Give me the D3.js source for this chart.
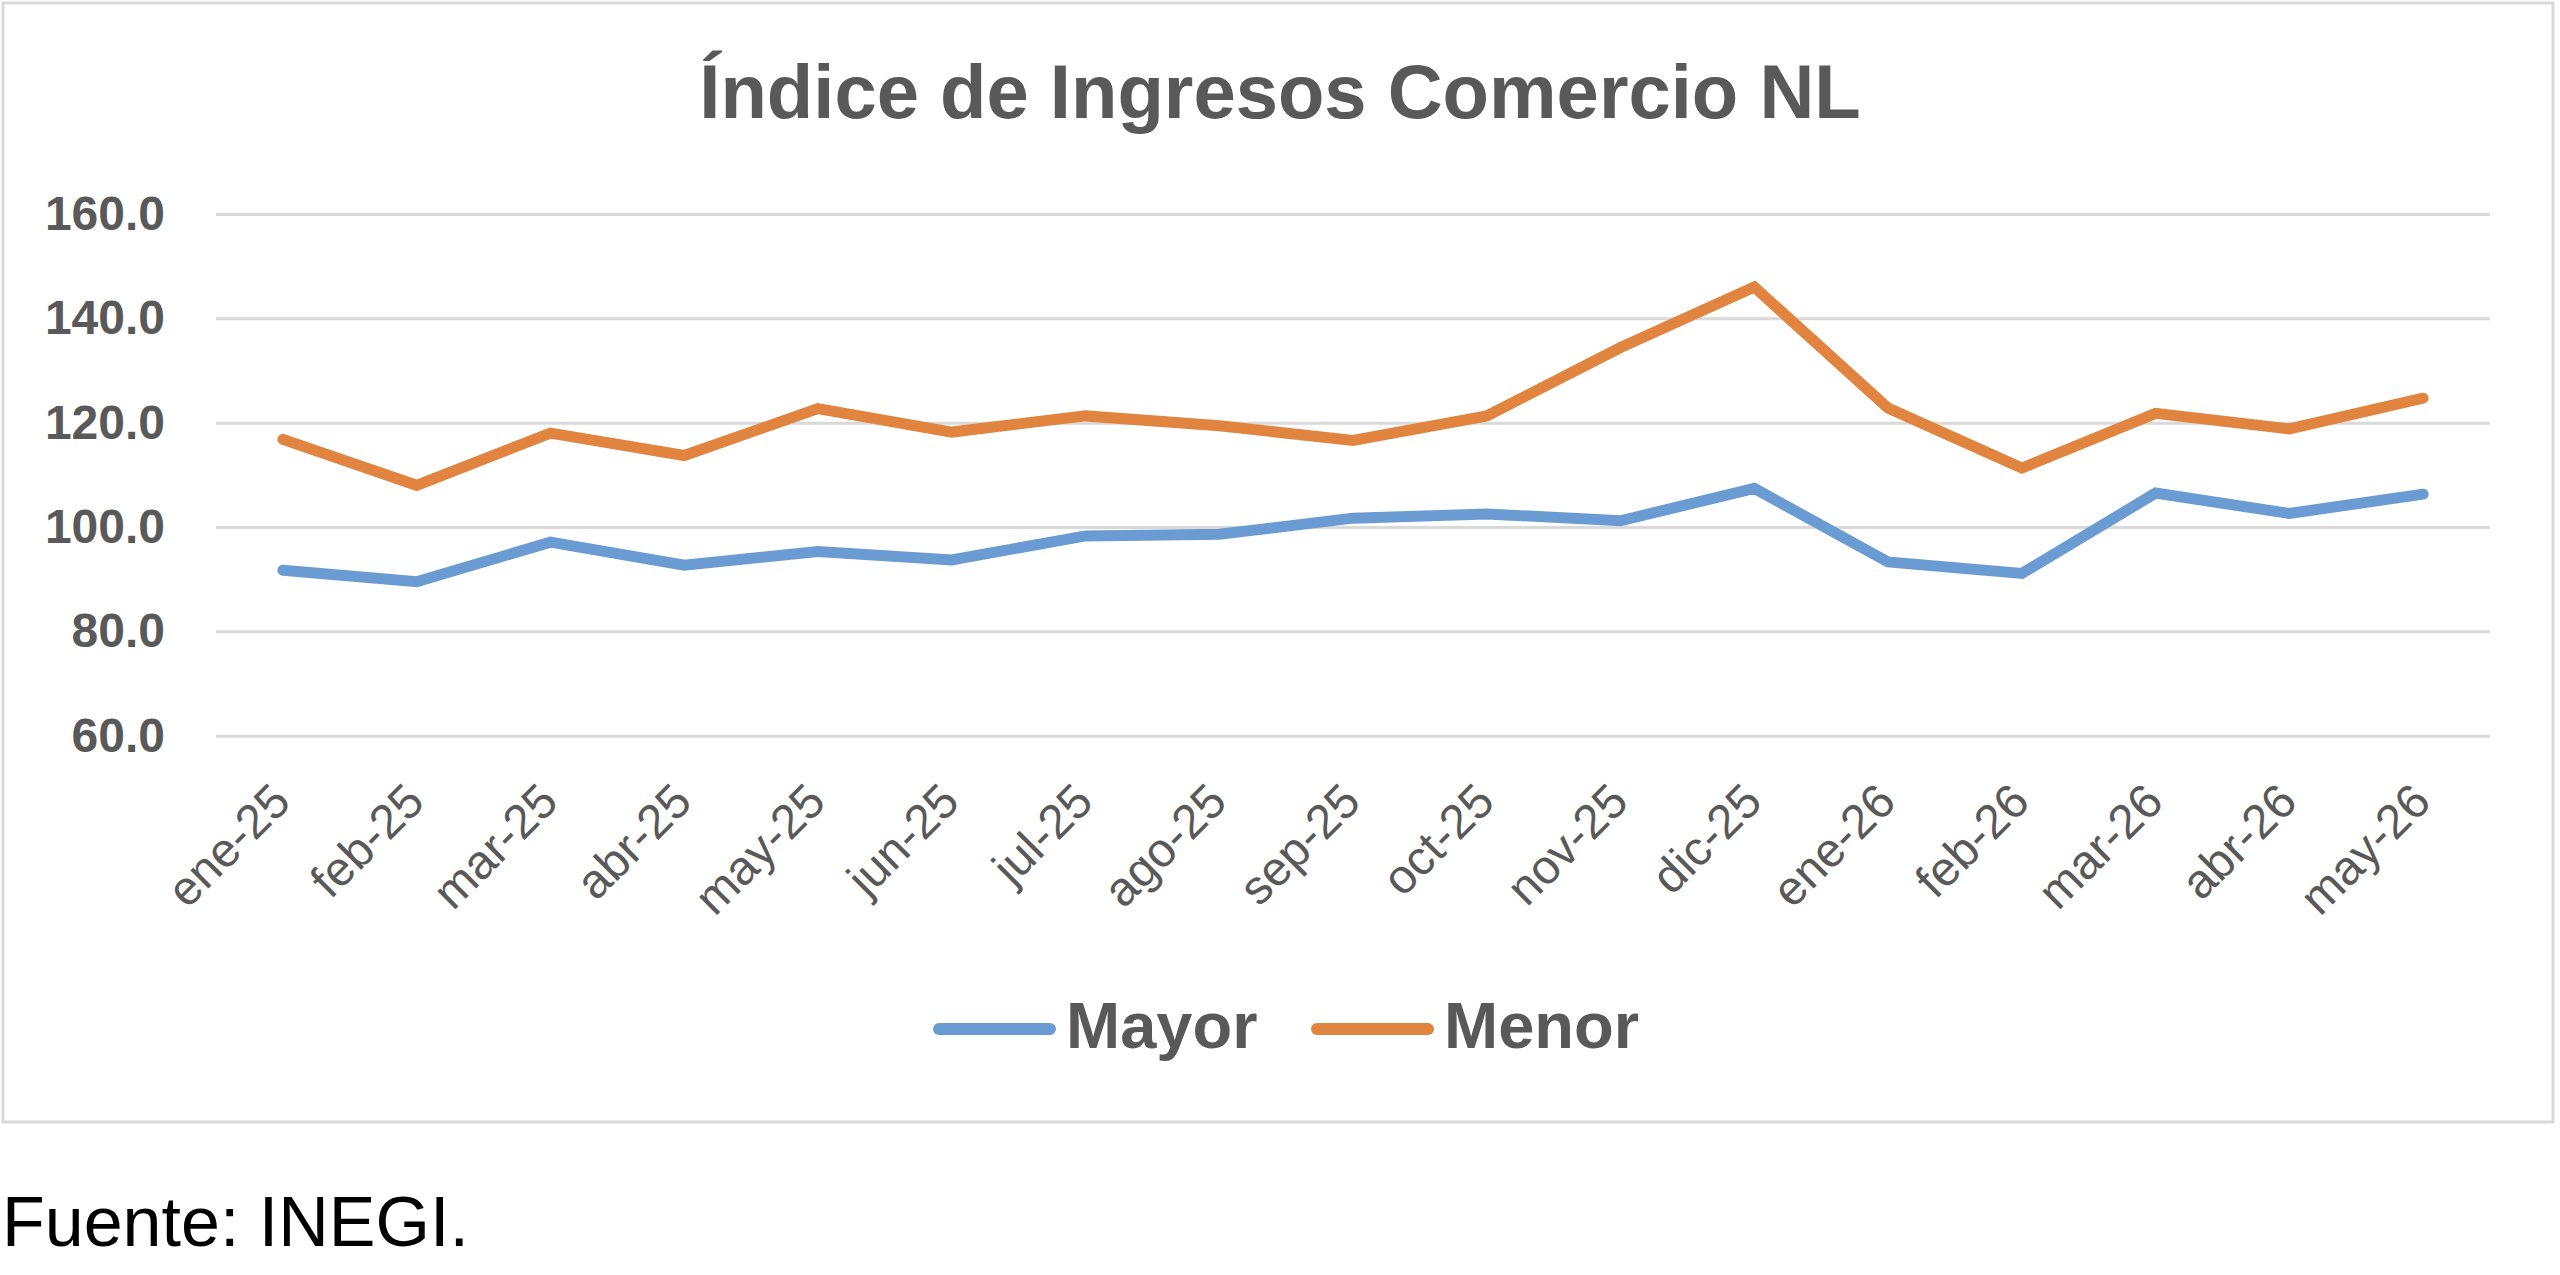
<!DOCTYPE html>
<html>
<head>
<meta charset="utf-8">
<script src="https://cdn.jsdelivr.net/npm/d3@7"></script>
<style>
  body { margin: 0; background: #fff; }
  svg { display: block; font-family: "Liberation Sans", Arial, sans-serif; }
</style>
</head>
<body>
<div id="plot"></div>
<script>
// Data
const months = ["ene-25", "feb-25", "mar-25", "abr-25", "may-25", "jun-25", "jul-25", "ago-25",
  "sep-25", "oct-25", "nov-25", "dic-25", "ene-26", "feb-26", "mar-26", "abr-26", "may-26"];
const mayor = [91.7, 89.5, 97.1, 92.7, 95.3, 93.7, 98.3, 98.6, 101.7, 102.5, 101.2, 107.4,
  93.3, 91.1, 106.5, 102.6, 106.3];
const menor = [116.8, 108.0, 118.0, 113.7, 122.7, 118.2, 121.3, 119.4, 116.6, 121.3, 134.4, 146.0,
  122.8, 111.3, 121.8, 118.8, 124.7];
const yTicks = [60, 80, 100, 120, 140, 160];
const seriesNames = ["Mayor", "Menor"];

const width = 2560, height = 1275;
const colors = { Mayor: "#6a9bd2", Menor: "#e0843f" };
const textGray = "#595959";

const svg = d3.select("#plot")
    .append("svg")
    .attr("width", width)
    .attr("height", height);

svg.append("rect")
    .attr("width", width).attr("height", height)
    .attr("fill", "#fff");

// Chart frame
svg.append("rect")
    .attr("x", 3).attr("y", 3)
    .attr("width", 2550).attr("height", 1119)
    .attr("fill", "none")
    .attr("stroke", "#d9d9d9")
    .attr("stroke-width", 3);

// Title
svg.append("text")
    .attr("x", 1280).attr("y", 118)
    .attr("text-anchor", "middle")
    .attr("font-weight", "bold")
    .attr("font-size", "76px")
    .attr("fill", textGray)
    .text("Índice de Ingresos Comercio NL");

// Scales
const plotLeft = 216, plotRight = 2490;
const x = d3.scalePoint()
    .domain(months)
    .range([plotLeft, plotRight])
    .padding(0.5);

const y = d3.scaleLinear()
    .domain([60, 160])
    .range([735.7, 214]);

// Y axis with gridlines
const yAxis = svg.append("g")
    .attr("transform", `translate(${plotLeft},0)`)
    .call(d3.axisLeft(y)
        .tickValues(yTicks)
        .tickSize(-(plotRight - plotLeft))
        .tickPadding(51)
        .tickFormat(d3.format(".1f")));

yAxis.select(".domain").remove();
yAxis.selectAll(".tick line")
    .attr("stroke", "#d9d9d9")
    .attr("stroke-width", 3);
yAxis.selectAll(".tick text")
    .attr("fill", textGray)
    .attr("font-family", "Liberation Sans, Arial, sans-serif")
    .attr("font-weight", "bold")
    .attr("font-size", "48px");

// X labels, rotated
svg.append("g")
    .selectAll("text")
    .data(months)
    .enter()
    .append("text")
    .attr("transform", d => `translate(${x(d) + 10},804) rotate(-45)`)
    .attr("text-anchor", "end")
    .attr("fill", textGray)
    .attr("font-size", "48px")
    .text(d => d);

// Lines
const line = d3.line()
    .x((d, i) => x(months[i]))
    .y(d => y(d));

const series = [
    { name: "Mayor", values: mayor },
    { name: "Menor", values: menor }
];

svg.selectAll(".series")
    .data(series)
    .enter()
    .append("path")
    .attr("class", "series")
    .attr("d", d => line(d.values))
    .attr("fill", "none")
    .attr("stroke", d => colors[d.name])
    .attr("stroke-width", 11)
    .attr("stroke-linejoin", "miter")
    .attr("stroke-linecap", "round");

// Legend
const legendX = [933, 1311];
const legend = svg.append("g")
    .selectAll("g")
    .data(seriesNames)
    .enter()
    .append("g")
    .attr("transform", (d, i) => `translate(${legendX[i]},0)`);

legend.append("line")
    .attr("x1", 6).attr("x2", 117)
    .attr("y1", 1029).attr("y2", 1029)
    .attr("stroke", d => colors[d])
    .attr("stroke-width", 12)
    .attr("stroke-linecap", "round");

legend.append("text")
    .attr("x", 133).attr("y", 1048)
    .attr("font-weight", "bold")
    .attr("font-size", "65px")
    .attr("fill", textGray)
    .text(d => d);

// Source note
svg.append("text")
    .attr("x", 2).attr("y", 1246)
    .attr("font-size", "70px")
    .attr("fill", "#000")
    .text("Fuente: INEGI.");
</script>
</body>
</html>
